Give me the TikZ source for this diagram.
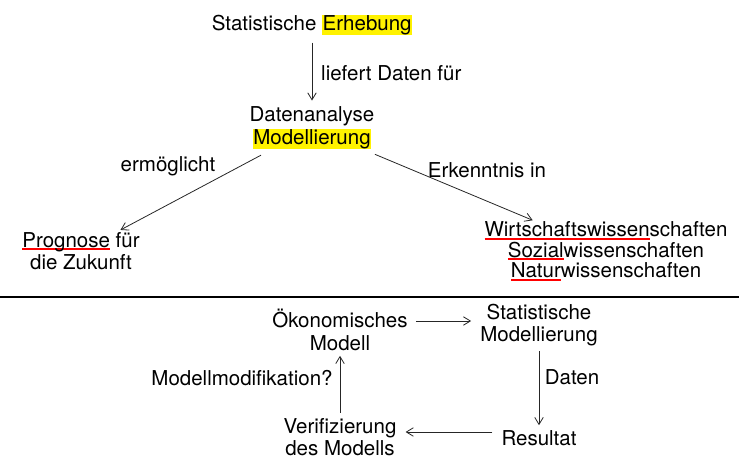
\documentclass[tikz,border=0pt]{standalone}
\usepackage{fontspec}
\setmainfont{TeX Gyre Heros}
\usetikzlibrary{arrows.meta}
\newsavebox\ulbox
\newcommand\redul[1]{\sbox\ulbox{#1}\rlap{\color{red}\rule[-3pt]{\wd\ulbox}{2pt}}\usebox\ulbox}
\newcommand\hlbox[1]{{\setlength{\fboxsep}{0.6pt}\colorbox{yellow}{#1}}}
\begin{document}
\begin{tikzpicture}[x=1pt,y=-1pt,
  txt/.style={font=\fontsize{20.5}{22.5}\selectfont, align=center, inner sep=1pt},
  lbl/.style={font=\fontsize{20.5}{22.5}\selectfont, inner sep=1pt},
  arr/.style={draw=black!85, line width=0.8pt, -{Straight Barb[length=7pt,width=8.5pt]}}]
\useasboundingbox (0,0) rectangle (739,457);
% top part
\node[txt] (erh) at (312,25) {Statistische \hlbox{Erhebung}};
\node[txt] (dat) at (312,128) {Datenanalyse\\\hlbox{Modellierung}};
\node[txt] (prog) at (81,251) {\redul{Prognose} für\\die Zukunft};
\node[txt, font=\fontsize{20.5}{20.5}\selectfont] (wiss) at (606,251) {\redul{Wirtschaftswissen}schaften\\\redul{Sozial}wissenschaften\\\redul{Natur}wissenschaften};
\node[lbl, anchor=west] (l1) at (320,73) {liefert Daten für};
\node[lbl] (l2) at (168,166) {ermöglicht};
\node[lbl] (l3) at (487,170) {Erkenntnis in};
\draw[arr, shorten <=6pt, shorten >=5pt] (erh.south) -- (dat.north);
\draw[arr, shorten <=10pt, shorten >=2pt] (dat) -- (prog);
\draw[arr, shorten <=10pt] (dat) -- (wiss);
% separator
\coordinate (sepL) at (0,297);
\coordinate (sepR) at (739,297);
\draw[line width=1.2pt] (sepL) -- (sepR);
% bottom loop
\node[txt] (oek) at (340,330) {Ökonomisches\\Modell};
\node[txt] (stm) at (539,325) {Statistische\\Modellierung};
\node[txt] (res) at (539,438) {Resultat};
\node[txt] (ver) at (340,437) {Verifizierung\\des Modells};
\node[lbl] (l4) at (572,377) {Daten};
\node[lbl] (l5) at (242,378) {Modellmodifikation?};
\coordinate (a1) at ([yshift=9pt]oek.east);
\draw[arr, shorten <=7pt, shorten >=8pt] (a1) -- (a1 -| stm.west);
\draw[arr, shorten <=4pt, shorten >=4pt] (stm.south) -- (res.north);
\coordinate (a2) at ([yshift=6pt]res.west);
\draw[arr, shorten <=8pt, shorten >=8pt] (a2) -- (a2 -| ver.east);
\draw[arr, shorten <=4pt, shorten >=4pt] (ver.north) -- (oek.south);
\end{tikzpicture}
\end{document}
